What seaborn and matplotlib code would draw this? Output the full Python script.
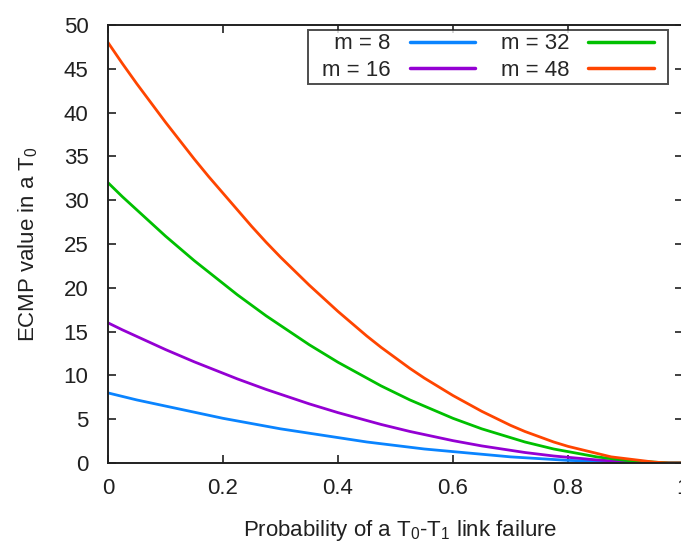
import numpy as np
import pandas as pd
import matplotlib
matplotlib.use("Agg")
import matplotlib.pyplot as plt
import matplotlib.path as mpath
import seaborn as sns

# ---- data ----
p = [0.000, 0.025, 0.050, 0.075, 0.100, 0.125, 0.150, 0.175, 0.200, 0.225,
     0.250, 0.275, 0.300, 0.325, 0.350, 0.375, 0.400, 0.425, 0.450, 0.475,
     0.500, 0.525, 0.550, 0.575, 0.600, 0.625, 0.650, 0.675, 0.700, 0.725,
     0.750, 0.775, 0.800, 0.825, 0.850, 0.875, 0.900, 0.925, 0.950, 0.975,
     1.000]
m8 = [8.0, 7.6, 7.2, 6.85, 6.5, 6.15, 5.8, 5.45, 5.1, 4.8,
      4.5, 4.2, 3.9, 3.65, 3.4, 3.15, 2.9, 2.65, 2.4, 2.2,
      2.0, 1.8, 1.6, 1.45, 1.3, 1.15, 1.0, 0.85, 0.7, 0.6,
      0.5, 0.4, 0.3, 0.25, 0.2, 0.15, 0.1, 0.05, 0.0, 0.0,
      0.0]
m16 = [16.0, 15.2, 14.45, 13.7, 12.95, 12.25, 11.55, 10.9, 10.25, 9.6,
       9.0, 8.4, 7.85, 7.3, 6.75, 6.25, 5.75, 5.3, 4.85, 4.4,
       4.0, 3.6, 3.25, 2.9, 2.55, 2.25, 1.95, 1.7, 1.45, 1.2,
       1.0, 0.8, 0.65, 0.5, 0.35, 0.25, 0.15, 0.1, 0.05, 0.0,
       0.0]
m32 = [32.0, 30.4, 28.9, 27.4, 25.9, 24.5, 23.1, 21.8, 20.5, 19.2,
       18.0, 16.8, 15.7, 14.6, 13.5, 12.5, 11.5, 10.6, 9.7, 8.8,
       8.0, 7.2, 6.5, 5.8, 5.1, 4.5, 3.9, 3.4, 2.9, 2.4,
       2.0, 1.6, 1.3, 1.0, 0.7, 0.5, 0.3, 0.2, 0.1, 0.0,
       0.0]
m48 = [48.0, 45.6, 43.3, 41.1, 38.9, 36.8, 34.7, 32.7, 30.8, 28.9,
       27.0, 25.2, 23.5, 21.9, 20.3, 18.8, 17.3, 15.9, 14.5, 13.2,
       12.0, 10.8, 9.7, 8.7, 7.7, 6.8, 5.9, 5.1, 4.3, 3.6,
       3.0, 2.4, 1.9, 1.5, 1.1, 0.7, 0.5, 0.3, 0.1, 0.0,
       0.0]
series_labels = ["  m = 8", "m = 16", "m = 32", "m = 48"]
series_colors = ["#0a84ff", "#9400d3", "#00c000", "#ff4500"]
x_ticks = [0, 0.2, 0.4, 0.6, 0.8, 1]
x_ticklabels = ["0", "0.2", "0.4", "0.6", "0.8", "1"]
y_ticks = [0, 5, 10, 15, 20, 25, 30, 35, 40, 45, 50]

df = pd.concat([
    pd.DataFrame({"p": p, "v": vals, "m": lab})
    for vals, lab in zip([m8, m16, m32, m48], series_labels)
])

sns.set_style("ticks")
plt.rcParams["font.family"] = ["Liberation Sans", "DejaVu Sans"]
plt.rcParams["mathtext.fontset"] = "custom"
plt.rcParams["mathtext.rm"] = "Liberation Sans"
plt.rcParams["mathtext.it"] = "Liberation Sans:italic"
plt.rcParams["mathtext.bf"] = "Liberation Sans:bold"

fig = plt.figure(figsize=(6.81, 5.42), dpi=100)
ax = fig.add_axes([108 / 681, 79 / 542, 575 / 681, 438 / 542])

sns.lineplot(data=df, x="p", y="v", hue="m", palette=series_colors,
             hue_order=series_labels, linewidth=2.0, ax=ax, legend=True)

ax.set_xlim(0, 1)
ax.set_ylim(0, 50)
ax.set_xticks(x_ticks)
ax.set_xticklabels(x_ticklabels)
ax.set_yticks(y_ticks)

for s in ax.spines.values():
    s.set_linewidth(1.4)
    s.set_color("#202020")

ax.tick_params(axis="both", which="both", direction="in", length=6, width=1.2,
               colors="#202020", labelcolor="#202020", labelsize=16,
               top=True, right=True)
ax.tick_params(axis="x", pad=11)
ax.tick_params(axis="y", pad=14)

ax.set_xlabel(r"Probability of a T$_{0}$-T$_{1}$ link failure", fontsize=16, color="#202020")
ax.set_ylabel(r"ECMP value in a T$_{0}$", fontsize=16, color="#202020")
ax.xaxis.set_label_coords(0.508, -0.125)
ax.yaxis.set_label_coords(-0.118, 0.5)

EXTRA_X = 0.5  # extra horizontal frame padding, in font-size units


def wide_box(x0, y0, width, height, mutation_size):
    padx = EXTRA_X * mutation_size
    verts = [(x0 - padx, y0), (x0 + width + padx, y0),
             (x0 + width + padx, y0 + height), (x0 - padx, y0 + height),
             (x0 - padx, y0)]
    return mpath.Path(verts, closed=True)


handles, labels = ax.get_legend_handles_labels()
leg = ax.legend(handles, labels, ncol=2, markerfirst=False, fontsize=16,
                loc="upper right", bbox_to_anchor=((668 - 11) / 681, 1 - 30 / 542),
                bbox_transform=fig.transFigure, borderaxespad=0,
                handlelength=2.95, handletextpad=0.85, columnspacing=1.15,
                labelspacing=0.25, borderpad=0.15, frameon=True, fancybox=False)
frame = leg.get_frame()
frame.set_boxstyle(wide_box)
frame.set_edgecolor("#202020")
frame.set_linewidth(1.4)
for line in leg.get_lines():
    line.set_linewidth(2.5)

fig.savefig("out.png", dpi=100)
